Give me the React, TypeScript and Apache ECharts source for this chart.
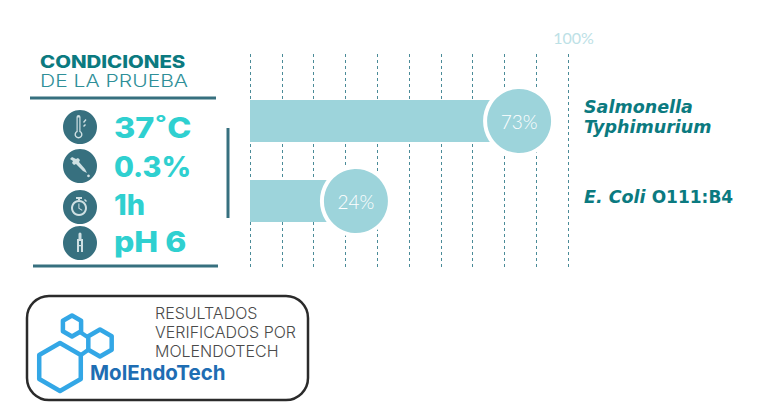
import React, { useEffect, useRef } from "react";
import * as echarts from "echarts";

const organisms = ["Salmonella\nTyphimurium", "{i|E. Coli} {n|O111:B4}"];
const percentages = [73, 24];
const ticks = [0, 10, 20, 30, 40, 50, 60, 70, 80, 90, 100];
const titleLines = ["CONDICIONES", "DE LA PRUEBA"];
const conditions = ["37˚C", "0.3%", "1h", "pH 6"];
const logoLines = ["RESULTADOS", "VERIFICADOS POR", "MOLENDOTECH"];
const logoName = "MolEndoTech";

const TEAL = "#0b7a80";
const DARK = "#37707f";
const CYAN = "#2fd0d0";
const BAR = "#9dd4db";
const ICON = "#cfe0e3";
const HEX = "#33a7e6";

echarts.graphic.registerShape("icoThermo", echarts.graphic.extendPath(
  "M-3.5 -10 A2 2 0 0 1 .5 -10 L.5 4 A4 4 0 1 1 -3.5 4 Z M-2.3 -9.5 L-2.3 5 A2.6 2.6 0 1 0 -.7 5 L-.7 -9.5 Z M3 -5 L5.5 -8 L6.5 -7 L4 -4 Z M3 -1 L5 -3 L6 -2 L4 0 Z", {}));
echarts.graphic.registerShape("icoDrop", echarts.graphic.extendPath(
  "M-10 -7 L-8 -9 L-4 -7 L-2 -8 L0 -6 L-1 -4 L5 3 L7 7 L3 5 L-4 -2 L-6 -1 L-8 -3 L-7 -5 Z M8.5 8.5 A1.4 1.4 0 1 0 8.51 8.5 Z", {}));
echarts.graphic.registerShape("icoWatch", echarts.graphic.extendPath(
  "M-1 -7 A8 8 0 1 1 -1.01 -7 Z M-1 -5 A6 6 0 1 0 -.99 -5 Z M-1.6 -3.5 L-.6 -3.5 L-.6 1 L2.5 3 L2 3.8 L-1.6 1.6 Z M-4 -10 L2 -10 L2 -8 L0 -8 L0 -7 L-2 -7 L-2 -8 L-4 -8 Z M5 -8 L7 -6 L6 -5 L4 -7 Z", {}));
echarts.graphic.registerShape("icoTube", echarts.graphic.extendPath(
  "M-1.5 -9 A1.5 1.5 0 0 1 1.5 -9 L1.5 -4 L3 -4 L3 9 L1 9 L1 -2 L-1 -2 L-1 9 L-3 9 L-3 -4 L-1.5 -4 Z M-3 2 L3 2 L3 3.2 L-3 3.2 Z", {}));

const hexPoints = (cx: number, cy: number, r: number) =>
  [0, 1, 2, 3, 4, 5].map((k) => {
    const a = (Math.PI / 3) * k - Math.PI / 2;
    return [cx + r * Math.cos(a), cy + r * Math.sin(a)];
  });

const hex = (cx: number, cy: number, r: number, w: number) => ({
  type: "polygon",
  shape: { points: hexPoints(cx, cy, r) },
  style: { fill: "none", stroke: HEX, lineWidth: w, lineJoin: "round" },
});

const rule = (x1: number, y1: number, x2: number, y2: number) => ({
  type: "line",
  shape: { x1, y1, x2, y2 },
  style: { stroke: DARK, lineWidth: 3 },
});

const iconShapes = ["icoThermo", "icoDrop", "icoWatch", "icoTube"];
const rowY = [128, 167, 205, 242];
const iconY = [127, 166, 207, 243];
const valueScale = [1.16, 1.03, 1.03, 1.14];

export default function App() {
  const ref = useRef<HTMLDivElement>(null);
  useEffect(() => {
    document.body.style.margin = "0";
    document.body.style.background = "#fff";
    const chart = echarts.init(ref.current!, undefined, { renderer: "svg" });
    const graphics: any[] = [
      {
        type: "text", x: 40, y: 62, scaleX: 1.2,
        style: { text: titleLines[0], fill: TEAL, font: "800 17px Inter", textVerticalAlign: "middle" },
      },
      {
        type: "text", x: 40, y: 81, scaleX: 1.24,
        style: { text: titleLines[1], fill: "#2f8f98", font: "300 17px Inter", textVerticalAlign: "middle" },
      },
      rule(30, 98, 216, 98),
      rule(228, 128, 228, 218),
      rule(33, 266, 218, 266),
      ...conditions.flatMap((c, i) => [
        { type: "circle", shape: { cx: 80, cy: iconY[i], r: 17 }, style: { fill: DARK } },
        { type: iconShapes[i], x: 80, y: iconY[i], style: { fill: ICON } },
        {
          type: "text", x: 114, y: rowY[i], scaleX: valueScale[i],
          style: { text: c, fill: CYAN, font: "800 28px Inter", textVerticalAlign: "middle" },
        },
      ]),
      {
        type: "rect",
        shape: { x: 27, y: 296, width: 281, height: 104, r: 22 },
        style: { fill: "#fff", stroke: "#2b2b2b", lineWidth: 2.5 },
      },
      hex(60, 367, 24, 4.5),
      hex(100, 343, 13.5, 4.5),
      hex(72, 326, 10.5, 4.5),
      { type: "line", shape: { x1: 80, y1: 332, x2: 89, y2: 338 }, style: { stroke: HEX, lineWidth: 4 } },
      { type: "line", shape: { x1: 81, y1: 355, x2: 88, y2: 350 }, style: { stroke: HEX, lineWidth: 4 } },
      {
        type: "text", x: 90, y: 372,
        style: { text: logoName, fill: "#1e6db3", font: "700 20.5px Inter", textVerticalAlign: "middle" },
      },
      ...logoLines.map((t, i) => ({
        type: "text", x: 155, y: [313, 332, 351][i],
        style: { text: t, fill: "#4a4a4a", font: "300 16px Inter", textVerticalAlign: "middle" },
      })),
    ];
    chart.setOption({
      animation: false,
      backgroundColor: "#fff",
      grid: [
        { left: 250, width: 318, top: 54, height: 214 },
        { left: 250, width: 318, top: 81, height: 160 },
      ],
      xAxis: [
        {
          gridIndex: 0, type: "value", position: "top", min: 0, max: 100, interval: 10,
          axisLine: { show: false }, axisTick: { show: false },
          splitLine: { show: true, lineStyle: { color: "#4a8b98", type: [3, 3], width: 1 } },
          axisLabel: {
            margin: 9, color: "#bde1e6", fontFamily: "Lato", fontSize: 16, padding: [0, 0, 0, 11],
            formatter: (v: number) => (v === ticks[ticks.length - 1] ? v + "%" : ""),
          },
        },
        { gridIndex: 1, type: "value", min: 0, max: 95.5, show: false },
      ],
      yAxis: [
        { gridIndex: 0, type: "value", show: false },
        {
          gridIndex: 1, type: "category", inverse: true, position: "right", data: organisms,
          axisLine: { show: false }, axisTick: { show: false }, splitLine: { show: false },
          axisLabel: {
            margin: 16, align: "left", color: TEAL, fontFamily: "DejaVu Sans", fontWeight: 700,
            fontStyle: "italic", fontSize: 17.5, lineHeight: 20, padding: [0, 0, 8, 0],
            rich: {
              i: { color: TEAL, fontFamily: "DejaVu Sans", fontWeight: 700, fontStyle: "italic", fontSize: 17.5 },
              n: { color: TEAL, fontFamily: "DejaVu Sans", fontWeight: 700, fontStyle: "normal", fontSize: 17 },
            },
          },
        },
      ],
      graphic: { elements: graphics },
      series: [
        {
          type: "bar", xAxisIndex: 1, yAxisIndex: 1, data: percentages, barWidth: 42,
          itemStyle: { color: BAR }, z: 3,
        },
        {
          type: "scatter", xAxisIndex: 1, yAxisIndex: 1, z: 4, clip: false,
          data: percentages.map((v, i) => [v, i]),
          symbol: "circle", symbolSize: 68, symbolOffset: [26, 0],
          itemStyle: { color: BAR, borderColor: "#fff", borderWidth: 4, opacity: 1 },
          label: {
            show: true, position: "inside", color: "#fff", fontFamily: "Lato", fontWeight: 300, fontSize: 19,
            formatter: (p: any) => p.value[0] + "%",
          },
        },
      ],
    });
    return () => chart.dispose();
  }, []);
  return <div ref={ref} style={{ width: 768, height: 408, position: "absolute", left: 0, top: 0 }} />;
}
